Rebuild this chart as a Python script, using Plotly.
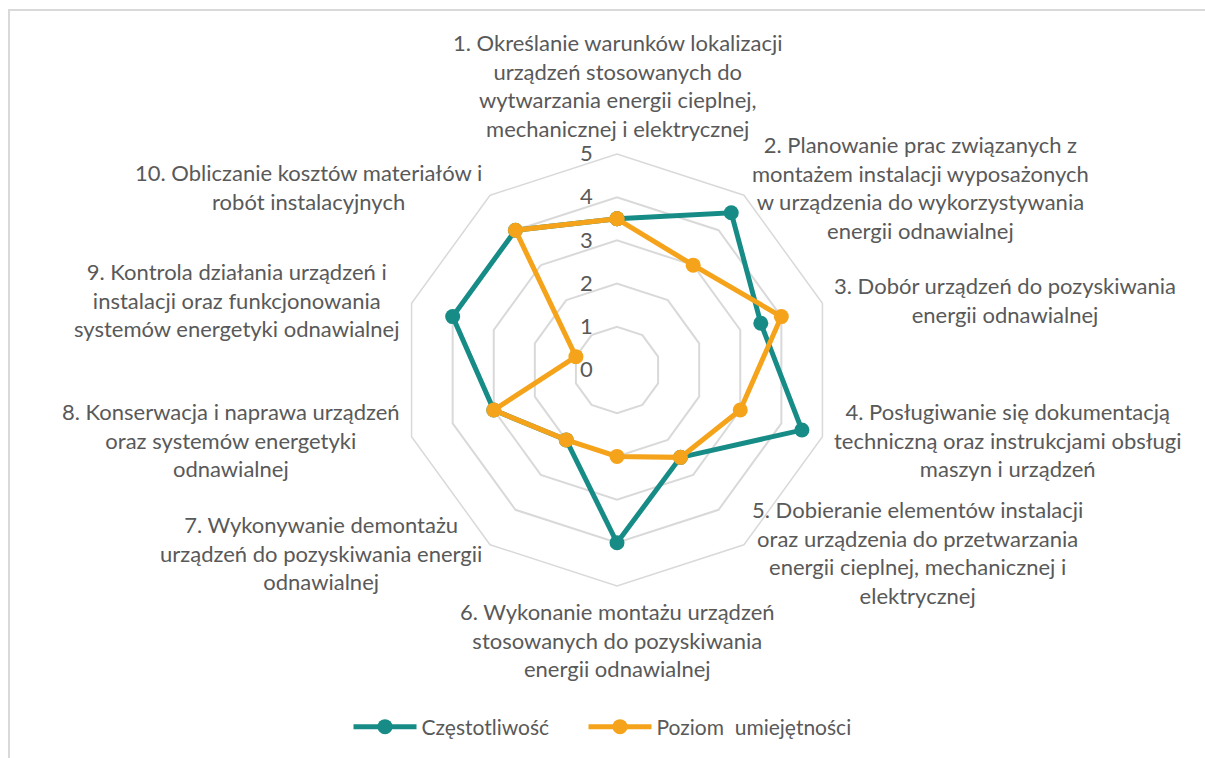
import math
import plotly.graph_objects as go

categories = [
    "1. Określanie warunków lokalizacji<br>urządzeń stosowanych do<br>wytwarzania energii cieplnej,<br>mechanicznej i elektrycznej",
    "2. Planowanie prac związanych z<br>montażem instalacji wyposażonych<br>w urządzenia do wykorzystywania<br>energii odnawialnej",
    "3. Dobór urządzeń do pozyskiwania<br>energii odnawialnej",
    "4. Posługiwanie się dokumentacją<br>techniczną oraz instrukcjami obsługi<br>maszyn i urządzeń",
    "5. Dobieranie elementów instalacji<br>oraz urządzenia do przetwarzania<br>energii cieplnej, mechanicznej i<br>elektrycznej",
    "6. Wykonanie montażu urządzeń<br>stosowanych do pozyskiwania<br>energii odnawialnej",
    "7. Wykonywanie demontażu<br>urządzeń do pozyskiwania energii<br>odnawialnej",
    "8. Konserwacja i naprawa urządzeń<br>oraz systemów energetyki<br>odnawialnej",
    "9. Kontrola działania urządzeń i<br>instalacji oraz funkcjonowania<br>systemów energetyki odnawialnej",
    "10. Obliczanie kosztów materiałów i<br>robót instalacyjnych",
]
czestotliwosc = [3.5, 4.5, 3.5, 4.5, 2.5, 4.0, 2.0, 3.0, 4.0, 4.0]
poziom = [3.5, 3.0, 4.0, 3.0, 2.5, 2.0, 2.0, 3.0, 1.0, 4.0]
radial_ticks = [0, 1, 2, 3, 4, 5]
series_names = ["Częstotliwość", "Poziom\u00a0 umiejętności"]

TEAL = "#178C87"
ORANGE = "#F5A31A"
TEXT = "#595959"
GRID = "#D9D9D9"
FONT = "Lato, Open Sans, sans-serif"

fig = go.Figure()
for name, vals, col, lw in [(series_names[0], czestotliwosc, TEAL, 157),
                            (series_names[1], poziom, ORANGE, None)]:
    fig.add_trace(go.Scatterpolar(
        r=vals + vals[:1], theta=categories + categories[:1],
        mode="lines+markers", name=name,
        line=dict(color=col, width=5),
        marker=dict(color=col, size=15),
        legendwidth=lw,
    ))

W, H = 1205, 758
cx, cy, R = 617, 370, 216

# category labels placed just outside the outer ring, Excel-style
annotations = []
n = len(categories)
for i, lab in enumerate(categories):
    th = math.radians(360.0 * i / n)
    s, c = math.sin(th), math.cos(th)
    px = cx + (R + 10) * s
    py = cy - (R + 10) * c
    if abs(s) < 1e-6:
        xa, ya = "center", ("bottom" if c > 0 else "top")
    else:
        xa, ya = ("left" if s > 0 else "right"), "middle"
    annotations.append(dict(
        x=px / W, y=1 - py / H, xref="paper", yref="paper", text=lab,
        showarrow=False, xanchor=xa, yanchor=ya, align="center",
        font=dict(family=FONT, size=22, color=TEXT),
    ))

fig.update_layout(
    width=W, height=H, autosize=False,
    margin=dict(l=0, r=0, t=0, b=0),
    paper_bgcolor="white", plot_bgcolor="white",
    font=dict(family=FONT, size=22, color=TEXT),
    polar=dict(
        domain=dict(x=[(cx - R) / W, (cx + R) / W], y=[(H - cy - R) / H, (H - cy + R) / H]),
        bgcolor="white",
        gridshape="linear",
        radialaxis=dict(range=[0, 5], tickvals=radial_ticks, angle=90, tickangle=90,
                        showline=False, gridcolor=GRID, gridwidth=1.5,
                        ticks="outside", ticklen=16, tickcolor="rgba(0,0,0,0)",
                        tickfont=dict(size=22, color=TEXT), side="counterclockwise"),
        angularaxis=dict(type="category", direction="clockwise", rotation=90,
                         showticklabels=False, showgrid=False, showline=True,
                         linecolor=GRID, linewidth=1.5, ticks=""),
    ),
    annotations=annotations,
    showlegend=True,
    legend=dict(orientation="h", x=0.5, xanchor="center", y=1 - 727 / H, yanchor="middle",
                font=dict(family=FONT, size=21, color=TEXT), itemwidth=63),
    shapes=[dict(type="rect", xref="paper", yref="paper", x0=9 / W, x1=1.01, y0=-0.01,
                 y1=1 - 10 / H, line=dict(color=GRID, width=2),
                 fillcolor="rgba(0,0,0,0)", layer="below")],
)
fig.write_html("out.html", config={"displayModeBar": False},
               post_script="document.body.style.margin='0';")
